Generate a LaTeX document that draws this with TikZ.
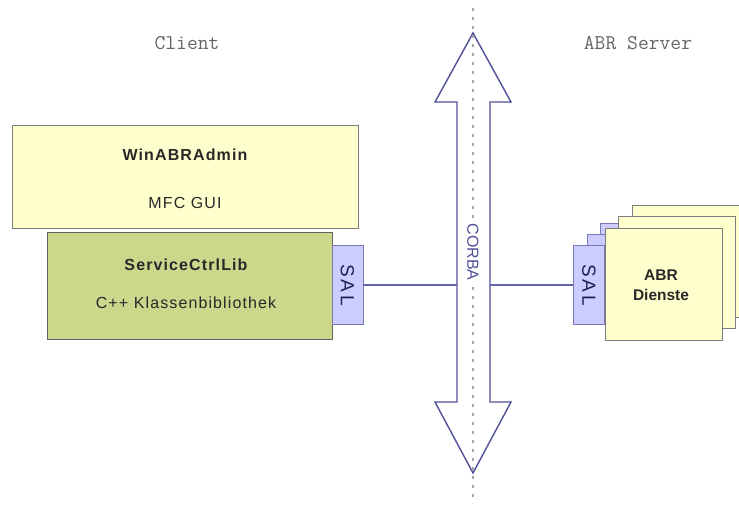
\documentclass[tikz,border=0pt]{standalone}
\usepackage{fontspec}
\setmainfont{Liberation Sans}
\newfontfamily\spacedfont[LetterSpace=7]{Liberation Sans}
\newfontfamily\salfont[LetterSpace=16]{Liberation Sans}
\definecolor{paleyellow}{RGB}{255,255,206}
\definecolor{olivegreen}{RGB}{204,215,140}
\definecolor{lavender}{RGB}{204,204,255}
\definecolor{salborder}{RGB}{120,120,180}
\definecolor{boxborder}{RGB}{125,125,125}
\definecolor{arrowblue}{RGB}{80,80,155}
\definecolor{linkblue}{RGB}{100,100,175}
\definecolor{textgray}{RGB}{40,40,40}
\begin{document}
\begin{tikzpicture}[x=1pt,y=-1pt,
  ybox/.style={draw=boxborder, line width=0.9pt, fill=paleyellow, inner sep=0pt},
  gbox/.style={draw=boxborder!80!black, line width=0.9pt, fill=olivegreen, inner sep=0pt},
  salbox/.style={draw=salborder, line width=0.9pt, fill=lavender, inner sep=0pt,
    minimum width=31pt, minimum height=79pt},
  salfn/.style={font=\salfont\fontsize{19}{21}\selectfont, text=textgray!80!blue, rotate=-90, inner sep=0pt},
  page/.style={draw=boxborder, line width=0.9pt, fill=paleyellow, inner sep=0pt,
    minimum width=117pt, minimum height=112pt},
  ttitle/.style={font=\spacedfont\bfseries\fontsize{16}{19}\selectfont, text=textgray, inner sep=0pt},
  tsub/.style={font=\spacedfont\fontsize{16}{19}\selectfont, text=textgray, inner sep=0pt},
  head/.style={font=\ttfamily\fontsize{21}{23}\selectfont, text=black!60, inner sep=0pt},
  link/.style={draw=linkblue, line width=1.1pt},
  bigarrow/.style={draw=arrowblue, line width=1.4pt, fill=white, line join=miter},
  axis/.style={draw=black!35, line width=2pt, dash pattern=on 3pt off 6pt}
]
\useasboundingbox (0,0) rectangle (739,509);
\fill[white] (0,0) rectangle (739,509);

% headings
\node[head] (client) at (187,43) {Client};
\node[head] (server) at (638,43) {ABR Server};

% client side
\node[ybox, minimum width=346pt, minimum height=103pt] (win) at (185,176.5) {};
\node[ttitle] (wint) at (185,155) {WinABRAdmin};
\node[tsub] (wins) at (185,203) {MFC GUI};
\node[gbox, minimum width=285pt, minimum height=107pt] (lib) at (189.5,285.5) {};
\node[ttitle] (libt) at (186,265) {ServiceCtrlLib};
\node[tsub] (libs) at (186,303) {C++ Klassenbibliothek};
\node[salbox] (lsal) at (347.5,285) {};
\node[salfn] (lsalt) at (lsal.center) {SAL};

% server side: stacked pages
\node[page] (p3) at (690.5,261) {};
\node[salbox] (s3) at (616,263) {};
\node[page] (p2) at (677,272.5) {};
\node[salbox] (s2) at (602.5,274) {};
\node[page] (p1) at (663.5,284) {};
\node[salbox] (rsal) at (589,285) {};
\node[salfn] (rsalt) at (rsal.center) {SAL};
\node[font=\bfseries\fontsize{15.5}{20}\selectfont, text=textgray, align=center, inner sep=0pt] (abr) at (661,285) {ABR\\Dienste};

% CORBA double arrow
\coordinate (tipT) at (473,33);
\coordinate (tipB) at (473,473);
\coordinate (shaftL) at (457,285);
\coordinate (shaftR) at (490,285);
\draw[bigarrow] (tipT) -- (435,102) -- (457,102) -- (457,402) -- (435,402) -- (tipB)
  -- (511,402) -- (490,402) -- (490,102) -- (511,102) -- cycle;
\coordinate (axT) at (473,8);
\coordinate (axB) at (473,503);
\draw[axis] (axT) -- (axB);
\node[font=\fontsize{16}{18}\selectfont, text=arrowblue, rotate=-90, fill=white, inner sep=1pt] (corba) at (473,252) {CORBA};

% connectors
\draw[link] (lsal.east) -- (shaftL);
\draw[link] (shaftR) -- (rsal.west);
\end{tikzpicture}
\end{document}
